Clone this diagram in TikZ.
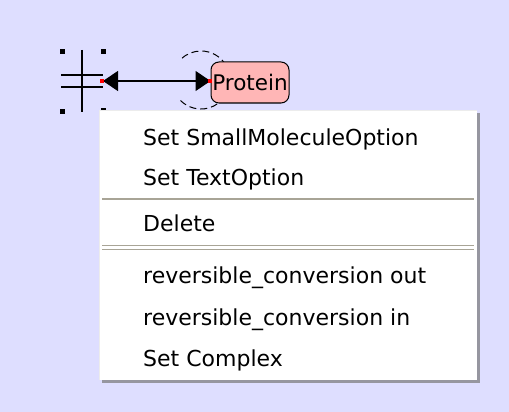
\documentclass[tikz,border=0pt]{standalone}
\usepackage{fontspec}
\setmainfont{DejaVu Sans}
\usetikzlibrary{arrows.meta}
\definecolor{bgc}{RGB}{222,222,255}
\definecolor{protfill}{RGB}{255,182,182}
\definecolor{sepc}{RGB}{168,164,150}
\definecolor{shadowc}{RGB}{150,150,160}
\definecolor{portc}{RGB}{255,0,0}
\tikzset{
  handle/.style={fill=black, minimum size=5pt, inner sep=0pt, draw=none, rectangle},
  port/.style={fill=portc, minimum size=4pt, inner sep=0pt, draw=none, rectangle},
  glyphline/.style={line width=1.6pt, black},
  protbox/.style={draw=black, fill=protfill, rounded corners=8pt, line width=1pt, minimum width=78pt, minimum height=41pt, inner sep=0pt, font=\fontsize{21.5}{24}\selectfont},
  menuitem/.style={anchor=base west, inner sep=0pt, font=\fontsize{22}{26}\selectfont},
  sepline/.style={sepc, line width=1.5pt},
  conn/.style={line width=1.3pt, {Triangle[length=15pt,width=20pt]}-{Triangle[length=15pt,width=20pt]}},
  arcline/.style={line width=1pt, dash pattern=on 7pt off 4pt}
}
\begin{document}
\begin{tikzpicture}[x=1pt,y=-1pt]
\fill[bgc] (0,0) rectangle (509,412);
\useasboundingbox (0,0) rectangle (509,412);
% small molecule glyph
\draw[glyphline] (82,50) -- (82,112);
\draw[glyphline] (61,75) -- (103,75);
\draw[glyphline] (61,87) -- (103,87);
\node[handle] (h1) at (62,52) {};
\node[handle] (h2) at (103,52) {};
\node[handle] (h3) at (62,111) {};
\node[handle] (h4) at (103,110) {};
% dashed arcs
\coordinate (arcc) at (201,80);
\draw[arcline] ([shift={(30:29pt)}]arcc) arc[start angle=30, end angle=135, radius=29pt];
\draw[arcline] ([shift={(225:29pt)}]arcc) arc[start angle=225, end angle=330, radius=29pt];
% protein
\node[protbox] (prot) at (250,82.5) {\raisebox{-2pt}{Protein}};
\coordinate (pl) at (103,81);
\draw[conn] (pl) -- (prot.west |- pl);
\node[port] (pa) at (102,81) {};
\node[port] (pb) at (210,81) {};
% menu
\fill[shadowc] (102,113) rectangle (480,383);
\fill[white] (99,110) rectangle (477,380);
\draw[white!85!gray, line width=0.8pt] (99.4,380) -- (99.4,110.4) -- (477,110.4);
\node[menuitem] (m1) at (143,145) {Set SmallMoleculeOption};
\node[menuitem] (m2) at (143,185) {Set TextOption};
\draw[sepline] (102,199) -- (474,199);
\node[menuitem] (m3) at (143,231) {Delete};
\draw[sepline] (102,245.5) -- (474,245.5);
\draw[sepline] (102,249.5) -- (474,249.5);
\node[menuitem] (m4) at (143,283) {reversible\_conversion out};
\node[menuitem] (m5) at (143,325) {reversible\_conversion in};
\node[menuitem] (m6) at (143,366) {Set Complex};
\end{tikzpicture}
\end{document}
